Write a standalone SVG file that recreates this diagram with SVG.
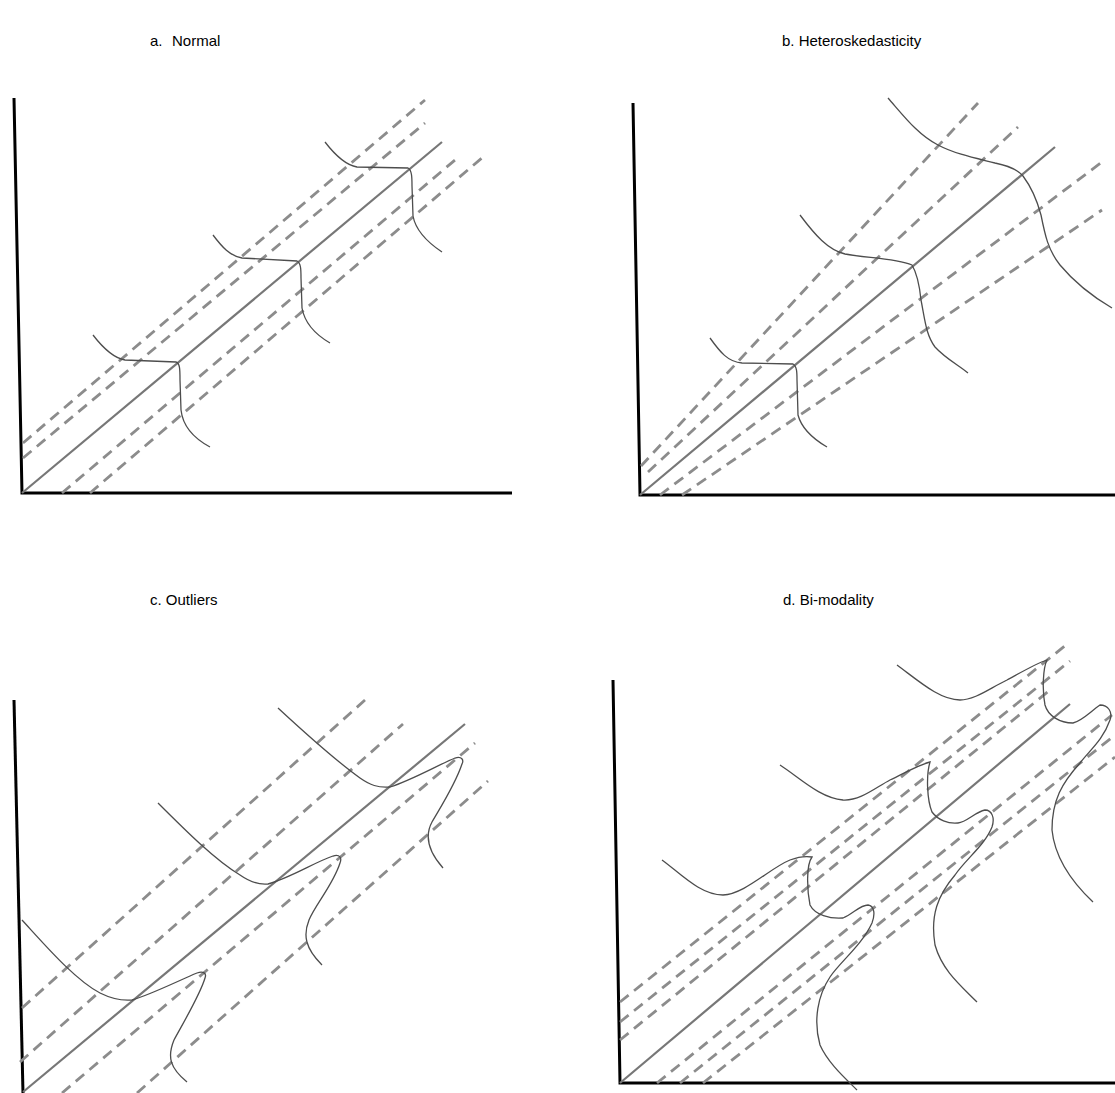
<svg xmlns="http://www.w3.org/2000/svg" width="1115" height="1093" viewBox="0 0 1115 1093">
<style>
.ax{stroke:#000;stroke-width:3;fill:none}
.fit{stroke:#777;stroke-width:2.2;fill:none}
.band{stroke:#8c8c8c;stroke-width:2.8;stroke-dasharray:11 7;fill:none}
.dist{stroke:#4d4d4d;stroke-width:1.3;fill:none}
.ttl{font-family:"Liberation Sans",Arial,sans-serif;font-size:15px;fill:#000}
</style>
<rect width="1115" height="1093" fill="#fff"/>
<g id="panel-a">
<text class="ttl" x="150" y="46">a.<tspan x="172">Normal</tspan></text>
<path class="ax" d="M14,98 L22,493 L512,493"/>
<line class="fit" x1="22" y1="493" x2="442" y2="142"/>
<line class="band" x1="23" y1="443" x2="425" y2="100"/>
<line class="band" x1="23" y1="458" x2="425" y2="123"/>
<line class="band" x1="62" y1="493" x2="455" y2="160"/>
<line class="band" x1="90" y1="493" x2="483" y2="157"/>
<path class="dist" d="M93,335 C103,348 113,358 125,360 L176,362 C180,363 180,370 180,380 L181,410 C183,428 197,440 210,447"/>
<path class="dist" d="M213,235 C222,247 230,256 242,258 L297,261 C301,263 301,270 301,278 L302,308 C305,325 318,336 330,343"/>
<path class="dist" d="M325,142 C335,155 345,165 357,167 L408,168 C412,170 412,178 412,186 L413,216 C416,232 430,244 442,252"/>
</g>
<g id="panel-b">
<text class="ttl" x="782" y="46">b. Heteroskedasticity</text>
<path class="ax" d="M633,103 L640,495 L1115,495"/>
<line class="fit" x1="640" y1="495" x2="1055" y2="147"/>
<line class="band" x1="641" y1="466" x2="978" y2="103"/>
<line class="band" x1="648" y1="472" x2="1018" y2="127"/>
<line class="band" x1="660" y1="495" x2="1102" y2="162"/>
<line class="band" x1="682" y1="495" x2="1102" y2="210"/>
<path class="dist" d="M710,338 C720,352 728,362 742,363 L793,364 C797,366 797,373 797,380 L798,415 C802,430 815,440 827,447"/>
<path class="dist" d="M800,215 C815,235 828,250 845,254 C865,258 895,258 912,265 C918,275 920,290 921,300 C925,320 926,335 935,347 C945,358 958,365 968,373"/>
<path class="dist" d="M888,98 C903,115 918,135 938,145 C955,154 975,158 995,163 C1010,166 1018,170 1023,176 C1032,188 1037,200 1041,215 C1045,235 1048,250 1060,265 C1075,283 1095,298 1112,308"/>
</g>
<g id="panel-c">
<text class="ttl" x="150" y="605">c. Outliers</text>
<path class="ax" d="M14,700 L23,1093"/>
<line class="fit" x1="23" y1="1092" x2="465" y2="724"/>
<line class="band" x1="22" y1="1008" x2="365" y2="700"/>
<line class="band" x1="20" y1="1062" x2="403" y2="724"/>
<line class="band" x1="62" y1="1093" x2="475" y2="743"/>
<line class="band" x1="137" y1="1093" x2="488" y2="781"/>
<path class="dist" d="M22,920 C45,945 75,980 100,993 C110,998 120,1001 132,1000 C150,995 180,980 197,973 C203,971 207,973 205,978 C200,995 182,1025 174,1040 C167,1057 170,1068 187,1082"/>
<path class="dist" d="M158,803 C185,830 215,860 240,875 C250,882 258,885 268,884 C290,878 315,862 333,856 C340,854 342,858 340,863 C333,885 315,905 309,920 C303,935 305,948 322,965"/>
<path class="dist" d="M278,708 C305,733 335,760 360,778 C370,785 378,788 390,787 C412,780 438,765 455,758 C462,756 464,760 462,764 C455,785 440,808 432,822 C425,835 427,850 443,868"/>
</g>
<g id="panel-d">
<text class="ttl" x="783" y="605">d. Bi-modality</text>
<path class="ax" d="M613,680 L620,1083 L1115,1083"/>
<line class="fit" x1="620" y1="1083" x2="1070" y2="704"/>
<line class="band" x1="620" y1="1002" x2="1066" y2="645"/>
<line class="band" x1="620" y1="1022" x2="1070" y2="661"/>
<line class="band" x1="620" y1="1040" x2="1050" y2="690"/>
<line class="band" x1="657" y1="1083" x2="1112" y2="715"/>
<line class="band" x1="680" y1="1083" x2="1115" y2="735"/>
<line class="band" x1="703" y1="1083" x2="1115" y2="757"/>
<path class="dist" d="M662,860 C680,873 700,895 723,895 C745,894 770,868 790,860 C798,857 806,856 812,857 C806,865 807,890 810,905 C815,915 830,919 843,918 C853,914 860,905 868,905 C875,906 875,915 872,923 C862,945 840,962 830,977 C818,995 813,1020 820,1045 C828,1063 845,1078 857,1090"/>
<path class="dist" d="M780,765 C800,778 820,798 843,800 C860,801 875,788 890,780 C905,773 918,765 930,762 C926,775 927,800 932,812 C938,820 948,824 958,823 C967,822 975,812 985,810 C992,810 995,818 992,827 C985,845 965,860 955,875 C938,895 930,915 935,945 C942,970 960,985 977,1002"/>
<path class="dist" d="M897,665 C920,682 940,700 960,700 C975,700 990,688 1007,680 C1020,673 1035,664 1047,660 C1043,668 1042,690 1045,705 C1048,716 1060,723 1073,723 C1082,721 1090,712 1100,705 C1108,705 1113,712 1110,720 C1103,740 1090,750 1080,763 C1062,783 1052,800 1052,830 C1055,860 1075,885 1093,902"/>
</g>
</svg>
